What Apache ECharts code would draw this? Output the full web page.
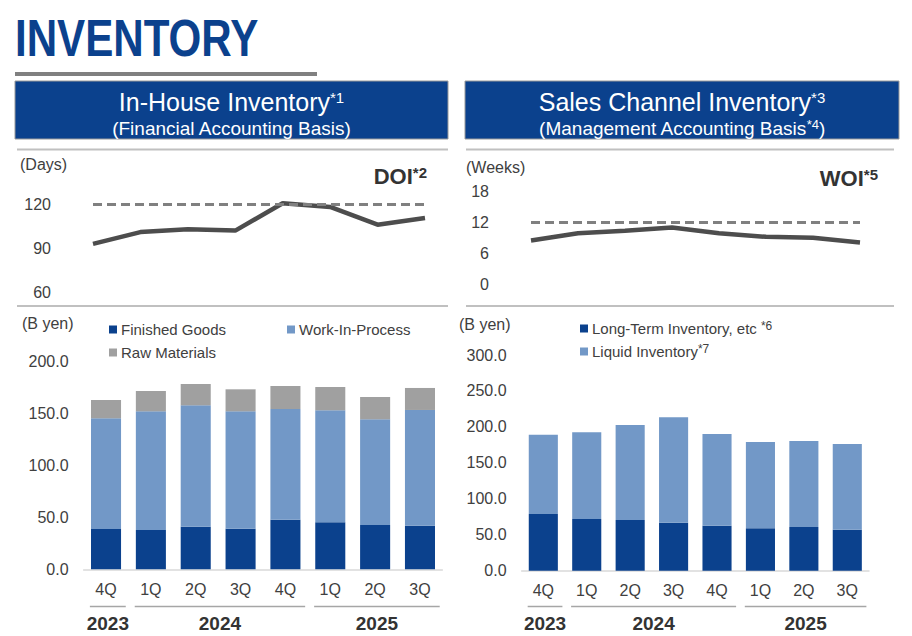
<!DOCTYPE html>
<html lang="en">
<head>
<meta charset="UTF-8">
<title>Inventory</title>
<script src="https://cdn.jsdelivr.net/npm/echarts@6/dist/echarts.min.js"></script>
<style>
  html, body { margin: 0; padding: 0; background: #fff; }
  #main { width: 912px; height: 636px; }
</style>
</head>
<body>
<div id="main"></div>
<script>
// quarters on the x axis, and the fiscal years they belong to
var quarters = ['4Q', '1Q', '2Q', '3Q', '4Q', '1Q', '2Q', '3Q'];
var yearGroups = [
    {year: '2023', from: 0, to: 0},
    {year: '2024', from: 1, to: 4},
    {year: '2025', from: 5, to: 7}
];

// DOI (days) and WOI (weeks)
var doi = [93, 101, 103, 102, 120.5, 118, 106, 110.5];
var doiTarget = 120;
var woi = [8.5, 9.9, 10.4, 11.0, 9.9, 9.2, 9.0, 8.1];
var woiTarget = 12;

// in-house inventory (B yen)
var finishedGoods = [38.8, 37.9, 41.0, 39.1, 47.8, 45.3, 42.7, 42.0];
var workInProcess = [106.7, 114.3, 117.0, 113.1, 106.6, 107.9, 101.8, 111.5];
var rawMaterials = [17.6, 19.6, 20.5, 21.2, 22.2, 22.4, 21.5, 21.2];

// sales channel inventory (B yen)
var longTerm = [78.9, 71.9, 70.5, 66.8, 62.6, 59.0, 60.8, 57.0];
var liquid = [110.3, 120.6, 132.1, 146.5, 127.5, 120.0, 119.6, 119.2];

var FONT = "'Liberation Sans', Arial, sans-serif";
var NAVY = '#0b418d';
var LIGHT = '#7298c7';
var GREY = '#a0a0a0';
var TXT = '#404040';

var chart = echarts.init(document.getElementById('main'), null, {renderer: 'svg'});

function lineY(min, max, step) {
    return {
        min: min, max: max, interval: step,
        axisLine: {show: false}, axisTick: {show: false}, splitLine: {show: false},
        axisLabel: {color: TXT, fontSize: 16, fontFamily: FONT, margin: 42}
    };
}
function barY(max) {
    return {
        min: 0, max: max, interval: 50,
        axisLine: {show: false}, axisTick: {show: false}, splitLine: {show: false},
        axisLabel: {color: TXT, fontSize: 16, fontFamily: FONT, margin: 15,
            formatter: function (v) { return v.toFixed(1); }}
    };
}
function barX() {
    return {
        type: 'category', data: quarters,
        axisLine: {lineStyle: {color: '#d9d9d9', width: 1.5}},
        axisTick: {show: false},
        axisLabel: {color: TXT, fontSize: 16, fontFamily: FONT, margin: 12}
    };
}
function target(v) {
    return {
        symbol: 'none', silent: true, label: {show: false},
        lineStyle: {type: [9, 5], color: '#808080', width: 3},
        data: [[{coord: [0, v]}, {coord: [quarters.length - 1, v]}]]
    };
}
function legendAt(name, left, top) {
    return {
        data: [name], left: left, top: top, itemWidth: 8, itemHeight: 8, itemGap: 4,
        icon: 'rect', selectedMode: false, padding: 0,
        textStyle: {color: TXT, fontSize: 15, fontFamily: FONT, padding: [0, 0, 0, -1],
            rich: {
                t: {color: TXT, fontSize: 15, fontFamily: FONT},
                s: {color: TXT, fontSize: 12, fontFamily: FONT, verticalAlign: 'top', padding: [0, 0, 5, 0]}
            }},
        formatter: function (n) {
            var i = n.indexOf('*');
            if (i < 0) return '{t|' + n + '}';
            return '{t|' + n.slice(0, i) + '}{s|' + n.slice(i) + '}';
        }
    };
}

var superRich = function (big, small, bold, color) {
    return {
        m: {fontSize: big, fontFamily: FONT, fontWeight: bold ? 'bold' : 'normal', fill: color},
        s: {fontSize: small, fontFamily: FONT, fontWeight: bold ? 'bold' : 'normal', fill: color,
            verticalAlign: 'top', padding: [0, 0, Math.round(big * 0.35), 0]}
    };
};

var staticGraphics = [
    {type: 'text', x: 15, y: 12, scaleX: 0.81, style: {text: 'INVENTORY', fill: NAVY,
        font: "bold 52px 'Liberation Sans', Arial, sans-serif"}},
    {type: 'rect', shape: {x: 15, y: 72, width: 302, height: 4}, style: {fill: '#808080'}},
    // header boxes
    {type: 'rect', shape: {x: 15, y: 81, width: 433, height: 58}, style: {fill: NAVY, stroke: '#9a9a9a', lineWidth: 1}},
    {type: 'rect', shape: {x: 465, y: 81, width: 434, height: 58}, style: {fill: NAVY, stroke: '#9a9a9a', lineWidth: 1}},
    {type: 'text', x: 231.5, y: 102, style: {text: '{m|In-House Inventory}{s|*1}', align: 'center', verticalAlign: 'middle',
        rich: superRich(25, 15, false, '#fff')}},
    {type: 'text', x: 231.5, y: 128, style: {text: '(Financial Accounting Basis)', align: 'center', verticalAlign: 'middle',
        fill: '#fff', fontSize: 19, fontFamily: FONT}},
    {type: 'text', x: 682, y: 102, style: {text: '{m|Sales Channel Inventory}{s|*3}', align: 'center', verticalAlign: 'middle',
        rich: superRich(25, 15, false, '#fff')}},
    {type: 'text', x: 682, y: 128, style: {text: '{m|(Management Accounting Basis}{s|*4}{m|)}', align: 'center', verticalAlign: 'middle',
        rich: superRich(19, 13, false, '#fff')}},
    // separators
    {type: 'line', shape: {x1: 17, y1: 149.5, x2: 448, y2: 149.5}, style: {stroke: '#c0c0c0', lineWidth: 2}},
    {type: 'line', shape: {x1: 17, y1: 306, x2: 448, y2: 306}, style: {stroke: '#c0c0c0', lineWidth: 2}},
    {type: 'line', shape: {x1: 466, y1: 149.5, x2: 894, y2: 149.5}, style: {stroke: '#c0c0c0', lineWidth: 2}},
    {type: 'line', shape: {x1: 466, y1: 306, x2: 894, y2: 306}, style: {stroke: '#c0c0c0', lineWidth: 2}},
    // units and titles
    {type: 'text', x: 20, y: 164, style: {text: '(Days)', fill: TXT, fontSize: 16, fontFamily: FONT, verticalAlign: 'middle'}},
    {type: 'text', x: 466, y: 167, style: {text: '(Weeks)', fill: TXT, fontSize: 16, fontFamily: FONT, verticalAlign: 'middle'}},
    {type: 'text', x: 22, y: 323, style: {text: '(B yen)', fill: TXT, fontSize: 16, fontFamily: FONT, verticalAlign: 'middle'}},
    {type: 'text', x: 459, y: 324, style: {text: '(B yen)', fill: TXT, fontSize: 16, fontFamily: FONT, verticalAlign: 'middle'}},
    {type: 'text', x: 427, y: 176, style: {text: '{m|DOI}{s|*2}', align: 'right', verticalAlign: 'middle',
        rich: superRich(22, 15, true, '#333')}},
    {type: 'text', x: 878, y: 178, style: {text: '{m|WOI}{s|*5}', align: 'right', verticalAlign: 'middle',
        rich: superRich(22, 15, true, '#333')}}
];

chart.setOption({
    animation: false,
    grid: [
        {left: 93, top: 204, width: 332, height: 88.7},
        {left: 531, top: 191.7, width: 329, height: 92.3},
        {left: 83.6, top: 361.7, width: 358.8, height: 207.6},
        {left: 521.6, top: 355, width: 347.4, height: 215.7}
    ],
    xAxis: [
        {gridIndex: 0, type: 'category', data: quarters, boundaryGap: false, show: false},
        {gridIndex: 1, type: 'category', data: quarters, boundaryGap: false, show: false},
        Object.assign({gridIndex: 2}, barX()),
        Object.assign({gridIndex: 3}, barX())
    ],
    yAxis: [
        Object.assign({gridIndex: 0}, lineY(60, 120, 30)),
        Object.assign({gridIndex: 1}, lineY(0, 18, 6)),
        Object.assign({gridIndex: 2}, barY(200)),
        Object.assign({gridIndex: 3}, barY(300))
    ],
    legend: [
        legendAt('Finished Goods', 109, 322),
        legendAt('Work-In-Process', 287, 322),
        legendAt('Raw Materials', 109, 345),
        legendAt('Long-Term Inventory, etc *6', 580, 320),
        legendAt('Liquid Inventory*7', 580, 343)
    ],
    series: [
        {name: 'DOI', type: 'line', xAxisIndex: 0, yAxisIndex: 0, data: doi, symbol: 'none', clip: false,
            lineStyle: {color: '#4d4d4d', width: 4.5}, markLine: target(doiTarget), z: 3},
        {name: 'WOI', type: 'line', xAxisIndex: 1, yAxisIndex: 1, data: woi, symbol: 'none', clip: false,
            lineStyle: {color: '#4d4d4d', width: 4.5}, markLine: target(woiTarget), z: 3},
        {name: 'Finished Goods', type: 'bar', stack: 'in', xAxisIndex: 2, yAxisIndex: 2, data: finishedGoods,
            barCategoryGap: '33%', itemStyle: {color: NAVY}},
        {name: 'Work-In-Process', type: 'bar', stack: 'in', xAxisIndex: 2, yAxisIndex: 2, data: workInProcess,
            itemStyle: {color: LIGHT}},
        {name: 'Raw Materials', type: 'bar', stack: 'in', xAxisIndex: 2, yAxisIndex: 2, data: rawMaterials,
            itemStyle: {color: GREY}},
        {name: 'Long-Term Inventory, etc *6', type: 'bar', stack: 'sc', xAxisIndex: 3, yAxisIndex: 3, data: longTerm,
            barCategoryGap: '33%', itemStyle: {color: NAVY}},
        {name: 'Liquid Inventory*7', type: 'bar', stack: 'sc', xAxisIndex: 3, yAxisIndex: 3, data: liquid,
            itemStyle: {color: LIGHT}}
    ]
});

// year row under each bar chart, placed from the category axis scale
var yearGraphics = [];
[2, 3].forEach(function (axis) {
    var band = chart.convertToPixel({xAxisIndex: axis}, 1) - chart.convertToPixel({xAxisIndex: axis}, 0);
    yearGroups.forEach(function (g) {
        var x1 = chart.convertToPixel({xAxisIndex: axis}, g.from) - band * 0.36;
        var x2 = chart.convertToPixel({xAxisIndex: axis}, g.to) + band * 0.44;
        yearGraphics.push({type: 'line', shape: {x1: x1, y1: 606.5, x2: x2, y2: 606.5},
            style: {stroke: '#a6a6a6', lineWidth: 1.5}});
        yearGraphics.push({type: 'text', x: (x1 + x2) / 2, y: 623,
            style: {text: g.year, align: 'center', verticalAlign: 'middle', fill: '#333',
                fontSize: 19, fontWeight: 'bold', fontFamily: FONT}});
    });
});

chart.setOption({graphic: staticGraphics.concat(yearGraphics)});
</script>
</body>
</html>
